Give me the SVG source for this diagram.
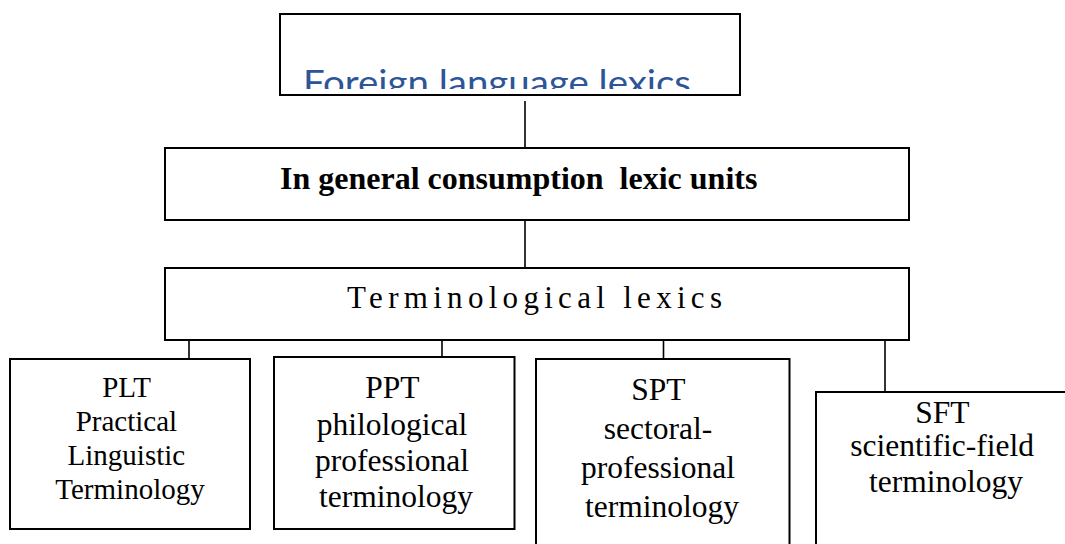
<svg xmlns="http://www.w3.org/2000/svg" width="1065" height="544" viewBox="0 0 1065 544">
  <style>
    .box { fill: #ffffff; stroke: #000000; stroke-width: 2; }
    .conn { stroke: #000000; stroke-width: 1.6; fill: none; }
    .serif { font-family: "Liberation Serif", "Times New Roman", serif; fill: #000000; }
    .leaf { font-size: 31.5px; text-anchor: middle; }
  </style>
  <defs>
    <clipPath id="topclip">
      <rect x="280" y="14" width="460" height="75"/>
    </clipPath>
  </defs>
  <rect width="1065" height="544" fill="#ffffff"/>

  <g id="connectors">
    <line class="conn" x1="525" y1="101" x2="525" y2="148"/>
    <line class="conn" x1="525" y1="220" x2="525" y2="268"/>
    <line class="conn" x1="189" y1="340" x2="189" y2="359"/>
    <line class="conn" x1="442" y1="340" x2="442" y2="357"/>
    <line class="conn" x1="663.5" y1="340" x2="663.5" y2="359"/>
    <line class="conn" x1="885" y1="340" x2="885" y2="392"/>
  </g>

  <g id="node-foreign">
    <rect class="box" x="280" y="14" width="460" height="81"/>
    <text x="303" y="94.5" clip-path="url(#topclip)" font-family="Lato, 'Open Sans', sans-serif" font-size="34" fill="#2E5597" textLength="388" lengthAdjust="spacingAndGlyphs">Foreign language lexics</text>
  </g>

  <g id="node-general">
    <rect class="box" x="165" y="148" width="744" height="72"/>
    <text class="serif" x="280" y="188.7" font-size="32" font-weight="bold" style="white-space:pre" xml:space="preserve">In general consumption  lexic units</text>
  </g>

  <g id="node-terminological">
    <rect class="box" x="165" y="268" width="744" height="72"/>
    <text class="serif" x="347" y="308.3" font-size="31" letter-spacing="5.3">Terminological lexics</text>
  </g>

  <g id="node-plt">
    <rect class="box" x="10" y="359" width="240" height="170"/>
    <text class="serif" text-anchor="middle" font-size="29" x="130">
      <tspan x="130" y="397">PLT</tspan>
      <tspan x="130" y="431">Practical</tspan>
      <tspan x="130" y="465">Linguistic</tspan>
      <tspan x="130" y="498.5">Terminology</tspan>
    </text>
  </g>

  <g id="node-ppt">
    <rect class="box" x="274" y="357" width="240.5" height="172"/>
    <text class="serif leaf" x="396">
      <tspan x="396" y="398">PPT</tspan>
      <tspan x="396" y="434.5">philological</tspan>
      <tspan x="396" y="470.5">professional</tspan>
      <tspan x="396" y="507">terminology</tspan>
    </text>
  </g>

  <g id="node-spt">
    <rect class="box" x="536" y="359" width="253.5" height="200"/>
    <text class="serif leaf" x="662">
      <tspan x="662" y="400">SPT</tspan>
      <tspan x="662" y="438.5">sectoral-</tspan>
      <tspan x="662" y="478">professional</tspan>
      <tspan x="662" y="516.5">terminology</tspan>
    </text>
  </g>

  <g id="node-sft">
    <rect class="box" x="816" y="392" width="260" height="170"/>
    <text class="serif leaf" x="946">
      <tspan x="946" y="422.5">SFT</tspan>
      <tspan x="946" y="456">scientific-field</tspan>
      <tspan x="946" y="491.5">terminology</tspan>
    </text>
  </g>
</svg>
